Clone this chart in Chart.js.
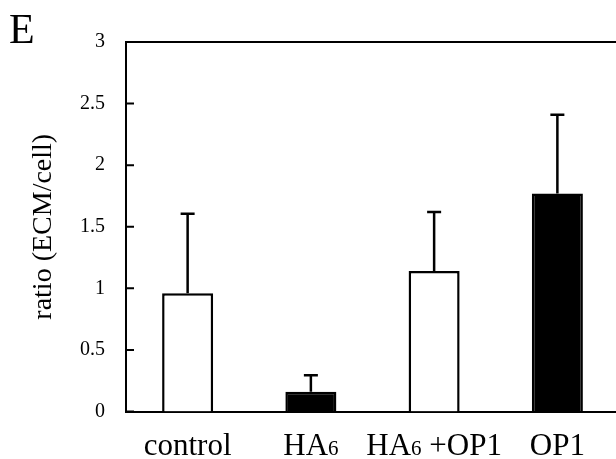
<!DOCTYPE html>
<html>
<head>
<meta charset="utf-8">
<script src="https://cdn.jsdelivr.net/npm/chart.js@4"></script>
<style>
    html, body { margin: 0; padding: 0; background: #fff; overflow: hidden; }
    #wrap { width: 620px; height: 459px; position: relative; }
</style>
</head>
<body>
<div id="wrap"><canvas id="ecmChart"></canvas></div>
<script>
// Datos
const categorias = ['control', 'HA6', 'HA6 +OP1', 'OP1'];
const valores = [0.96, 0.16, 1.14, 1.77];
const errores = [0.645, 0.135, 0.48, 0.64];
const rellenos = ['#ffffff', '#000000', '#ffffff', '#000000'];
const ticksY = [0, 0.5, 1, 1.5, 2, 2.5, 3];

const serif = '"Liberation Serif", "Times New Roman", serif';

// Barras de error, marcas internas del eje Y, borde superior y etiquetas X
const extrasPlugin = {
    id: 'extras',
    afterDatasetsDraw(chart) {
        const ctx = chart.ctx;
        const y = chart.scales.y;
        const meta = chart.getDatasetMeta(0);
        ctx.save();
        ctx.strokeStyle = '#000';
        ctx.lineWidth = 2.5;
        meta.data.forEach((bar, i) => {
            const y0 = y.getPixelForValue(valores[i]);
            const y1 = y.getPixelForValue(valores[i] + errores[i]);
            ctx.beginPath();
            ctx.moveTo(bar.x, y0);
            ctx.lineTo(bar.x, y1);
            ctx.moveTo(bar.x - 7, y1);
            ctx.lineTo(bar.x + 7, y1);
            ctx.stroke();
        });
        ctx.restore();
    },
    afterDraw(chart) {
        const ctx = chart.ctx;
        const area = chart.chartArea;
        const y = chart.scales.y;
        const x = chart.scales.x;
        ctx.save();
        ctx.strokeStyle = '#000';
        ctx.lineWidth = 2;

        // borde superior
        ctx.beginPath();
        ctx.moveTo(area.left - 1, area.top);
        ctx.lineTo(area.right, area.top);
        ctx.stroke();

        // marcas hacia dentro
        ctx.beginPath();
        ticksY.forEach(v => {
            const py = y.getPixelForValue(v);
            ctx.moveTo(area.left, py);
            ctx.lineTo(area.left + 8, py);
        });
        ctx.stroke();

        // etiquetas del eje X (el 6 más pequeño)
        ctx.fillStyle = '#000';
        ctx.textBaseline = 'alphabetic';
        ctx.textAlign = 'left';
        categorias.forEach((txt, i) => {
            const partes = txt.split(/(?<=A)(6)/).filter(p => p !== '');
            const fuente = p => (p === '6' ? '21px ' : '31px ') + serif;
            let ancho = 0;
            partes.forEach(p => { ctx.font = fuente(p); ancho += ctx.measureText(p).width; });
            let px = x.getPixelForValue(i) - ancho / 2;
            partes.forEach(p => {
                ctx.font = fuente(p);
                ctx.fillText(p, px, 455);
                px += ctx.measureText(p).width;
            });
        });

        // letra del panel
        ctx.font = '42px ' + serif;
        ctx.fillText('E', 9, 43);
        ctx.restore();
    }
};

const ctx = document.getElementById('ecmChart').getContext('2d');
new Chart(ctx, {
    type: 'bar',
    data: {
        labels: categorias,
        datasets: [{
            data: valores,
            backgroundColor: rellenos,
            borderColor: '#000',
            borderWidth: 2.5,
            borderSkipped: 'bottom',
            categoryPercentage: 1,
            barPercentage: 0.414
        }]
    },
    plugins: [extrasPlugin],
    options: {
        responsive: true,
        maintainAspectRatio: false,
        animation: false,
        layout: { padding: { top: 42, right: 1, left: 0, bottom: 0 } },
        plugins: {
            legend: { display: false },
            tooltip: { enabled: false }
        },
        scales: {
            x: {
                grid: { display: false },
                border: { display: true, color: '#000', width: 2 },
                ticks: { display: false },
                afterFit(scale) { scale.height = 47.5; }
            },
            y: {
                min: 0,
                max: 3,
                afterBuildTicks(scale) { scale.ticks = ticksY.map(v => ({ value: v })); },
                grid: { display: false },
                border: { display: true, color: '#000', width: 2 },
                ticks: {
                    color: '#000',
                    padding: 13,
                    font: { family: serif, size: 20 },
                    callback: v => String(v)
                },
                title: {
                    display: true,
                    text: 'ratio (ECM/cell)',
                    color: '#000',
                    font: { family: serif, size: 28 },
                    padding: { top: 27, bottom: 0 }
                },
                afterFit(scale) { scale.width = 126; }
            }
        }
    }
});
</script>
</body>
</html>
